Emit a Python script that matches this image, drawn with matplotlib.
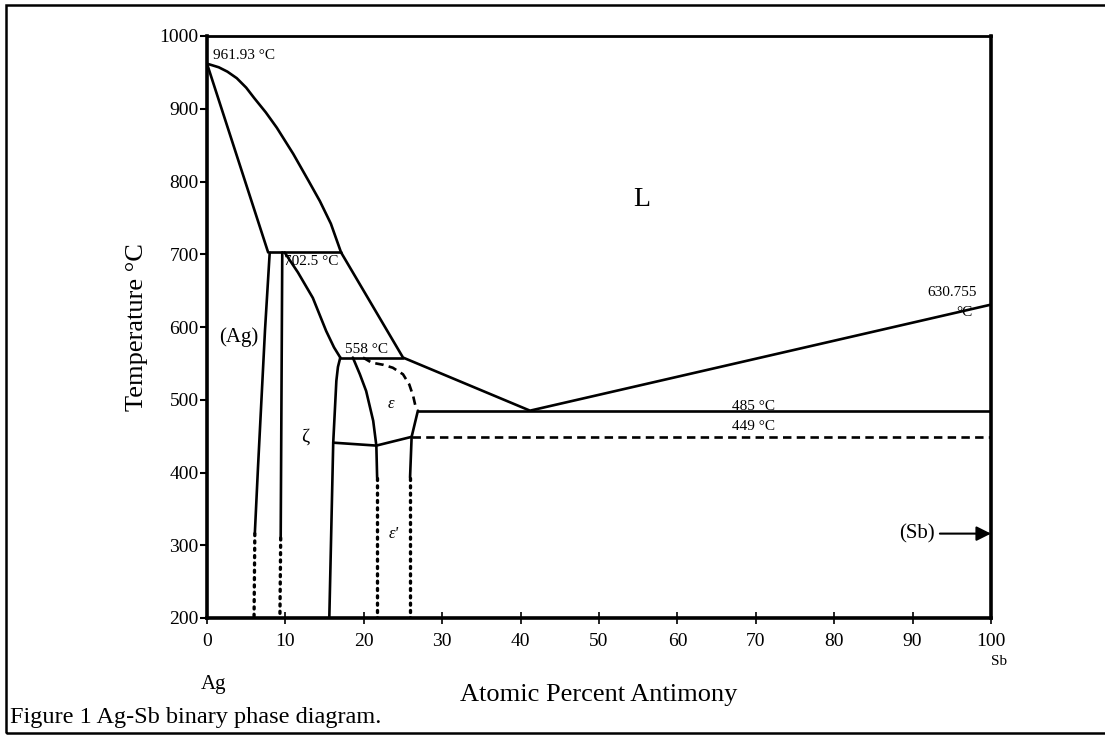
import matplotlib
matplotlib.use('Agg')
import matplotlib.pyplot as plt
from matplotlib.patches import Rectangle

plt.rcParams['font.family'] = ['Liberation Serif', 'DejaVu Serif']

# ── Phase boundaries (at.% Sb, °C) ───────────────────────────────────────────
liq_x = [0, 0.6, 1.5, 2.6, 3.8, 5.0, 6.0, 7.5, 8.9, 11.0, 13.0, 14.4, 15.8, 17.1, 25.0, 41.2, 100]
liq_T = [961.93, 960, 957, 951, 942, 929, 915, 895, 874, 838, 800, 773, 742, 702.5, 558, 485, 630.755]

sol_x = [0, 7.8]
sol_T = [961.93, 702.5]

ag_solvus_x = [8.0, 7.4, 6.5, 6.1]
ag_solvus_T = [702.5, 596, 406, 316]
ag_solvus_dot_x = [6.1, 6.0]
ag_solvus_dot_T = [316, 200]

peri_x = [8.0, 17.1]
peri_T = [702.5, 702.5]

zeta_l_x = [9.6, 9.4]
zeta_l_T = [702.5, 310]
zeta_l_dot_x = [9.4, 9.3]
zeta_l_dot_T = [310, 200]

zeta_liq_x = [9.9, 11.6, 13.5, 15.2, 16.2, 17.0]
zeta_liq_T = [702.5, 675, 640, 594.5, 572, 558]

zeta_r_x = [17.0, 16.7, 16.5, 16.1, 15.6]
zeta_r_T = [558, 545, 526, 441, 200]

p558_x = [17.0, 25.0]
p558_T = [558, 558]

eps_l_x = [18.6, 19.5, 20.3, 21.2, 21.6, 21.7]
eps_l_T = [558, 535, 512, 471, 437, 393]
eps_l_dot_x = [21.7, 21.7]
eps_l_dot_T = [393, 200]

zeta_eps_x = [16.1, 21.6, 26.1]
zeta_eps_T = [441, 437, 449]

eps_dash_x = [19.9, 21.0, 22.5, 23.7, 25.0, 25.8, 26.3, 26.7]
eps_dash_T = [558, 551, 548, 544, 535, 521, 505, 486]

eps_r_x = [26.9, 26.1, 25.9]
eps_r_T = [485, 449, 393]
eps_r_dot_x = [25.9, 25.9]
eps_r_dot_T = [393, 200]

eut_x = [26.9, 100]
eut_T = [485, 485]
eutd_x = [26.1, 100]
eutd_T = [449, 449]

xticks = list(range(0, 101, 10))
yticks = list(range(200, 1001, 100))

# ── Figure ───────────────────────────────────────────────────────────────────
fig = plt.figure(figsize=(11.05, 7.35), dpi=100)
ax = fig.add_axes([207/1105, 1 - 618/735, (991-207)/1105, (618-36)/735])

LW = 1.9
solid = dict(color='black', lw=LW, solid_joinstyle='round', solid_capstyle='round')
dash = dict(color='black', lw=LW, ls=(0, (3.2, 2.0)))
dot = dict(color='black', lw=2.4, ls=(0, (0.6, 1.6)), dash_capstyle='round')

ax.plot(liq_x, liq_T, **solid)
ax.plot(sol_x, sol_T, **solid)
ax.plot(ag_solvus_x, ag_solvus_T, **solid)
ax.plot(ag_solvus_dot_x, ag_solvus_dot_T, **dot)
ax.plot(peri_x, peri_T, **solid)
ax.plot(zeta_l_x, zeta_l_T, **solid)
ax.plot(zeta_l_dot_x, zeta_l_dot_T, **dot)
ax.plot(zeta_liq_x, zeta_liq_T, **solid)
ax.plot(zeta_r_x, zeta_r_T, **solid)
ax.plot(p558_x, p558_T, **solid)
ax.plot(eps_l_x, eps_l_T, **solid)
ax.plot(eps_l_dot_x, eps_l_dot_T, **dot)
ax.plot(zeta_eps_x, zeta_eps_T, **solid)
ax.plot(eps_dash_x, eps_dash_T, **dash)
ax.plot(eps_r_x, eps_r_T, **solid)
ax.plot(eps_r_dot_x, eps_r_dot_T, **dot)
ax.plot(eut_x, eut_T, **solid)
ax.plot(eutd_x, eutd_T, **dash)

ax.set_xlim(0, 100)
ax.set_ylim(200, 1000)
ax.set_xticks(xticks)
ax.set_yticks(yticks)
ax.tick_params(axis='y', direction='out', length=5, width=1.5, labelsize=14, pad=1)
ax.tick_params(axis='x', direction='inout', length=8, width=1.2, labelsize=14, pad=7)
for s in ['left', 'right', 'bottom']:
    ax.spines[s].set_linewidth(2.6)
ax.spines['top'].set_linewidth(2.0)

# labels in the plot
ax.text(0.8, 973, '961.93 °C', fontsize=11, ha='left', va='center')
ax.text(9.8, 690, '702.5 °C', fontsize=11, ha='left', va='center')
ax.text(17.6, 569, '558 °C', fontsize=11, ha='left', va='center')
ax.text(69.7, 491, '485 °C', fontsize=11, ha='center', va='center')
ax.text(69.7, 463, '449 °C', fontsize=11, ha='center', va='center')
ax.text(95.0, 647, '630.755', fontsize=11, ha='center', va='center')
ax.text(96.6, 620, '°C', fontsize=11, ha='center', va='center')
ax.text(55.5, 775, 'L', fontsize=20, ha='center', va='center')
ax.text(4.0, 586, '(Ag)', fontsize=15, ha='center', va='center')
ax.text(12.5, 448, 'ζ', fontsize=14, ha='center', va='center')
ax.text(23.5, 494, 'ε', fontsize=12, ha='center', va='center', style='italic')
ax.text(23.8, 316, "ε'", fontsize=12, ha='center', va='center', style='italic')
ax.annotate('(Sb)', xy=(100, 316), xytext=(90.5, 316), fontsize=15,
            ha='center', va='center',
            arrowprops=dict(arrowstyle='-|>', color='black', lw=1.5,
                            mutation_scale=22, shrinkA=2, shrinkB=0))

ax.set_ylabel('Temperature °C', fontsize=19, labelpad=8)
ax.set_xlabel('Atomic Percent Antimony', fontsize=19, labelpad=24)
xt = ax.get_xaxis_transform()
ax.text(0.8, -0.115, 'Ag', transform=xt, fontsize=15, ha='center', va='center')
ax.text(101.0, -0.075, 'Sb', transform=xt, fontsize=11, ha='center', va='center')

fig.text(10/1105, 1 - 718/735, 'Figure 1 Ag-Sb binary phase diagram.',
         fontsize=17.5, ha='left', va='center')

# outer frame of the scanned page
fig.add_artist(Rectangle((6/1105, 2/735), 1.2, 728/735, transform=fig.transFigure,
                         fill=False, lw=1.8, ec='black'))

fig.savefig('out.png', dpi=100)
